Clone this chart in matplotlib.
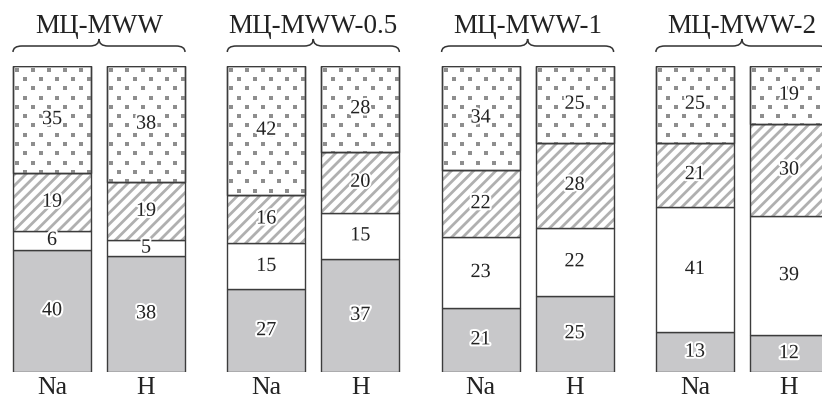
import numpy as np
import matplotlib.pyplot as plt
import matplotlib.patheffects as pe
from matplotlib.path import Path
from matplotlib.patches import PathPatch

plt.rcParams['font.family'] = ['Liberation Serif', 'DejaVu Serif']
plt.rcParams['hatch.linewidth'] = 2.0

# ---- data (percent, bottom -> top) ----
groups = ['МЦ-MWW', 'МЦ-MWW-0.5', 'МЦ-MWW-1', 'МЦ-MWW-2']
forms = ['Na', 'H']
gray_part = [[40, 38], [27, 37], [21, 25], [13, 12]]
white_part = [[6, 5], [15, 15], [23, 22], [41, 39]]
hatch_part = [[19, 19], [16, 20], [22, 28], [21, 30]]
dot_part = [[35, 38], [42, 28], [34, 25], [25, 19]]

# ---- layout ----
fig = plt.figure(figsize=(8.22, 3.98), dpi=100)
ax = fig.add_axes([0, 26 / 398, 1, 306 / 398])
ax.set_xlim(0, 822)
ax.set_ylim(0, 100)
ax.axis('off')

group_step = 214.3
first_center = 52
pair_gap = 94
bar_w = 78
edge = '#3c3c3c'
dot_marker = [(-0.8, -1), (0.8, -1), (0.8, 1), (-0.8, 1), (-0.8, -1)]


def to_y(px):
    # pixel row (from top) -> data units
    return (372 - px) / 3.06


halo = [pe.withStroke(linewidth=3, foreground='white')]

for g, name in enumerate(groups):
    xs = [first_center + g * group_step, first_center + g * group_step + pair_gap]
    for k, x in enumerate(xs):
        segs = [gray_part[g][k], white_part[g][k], hatch_part[g][k], dot_part[g][k]]
        bottoms = np.concatenate([[0], np.cumsum(segs)[:-1]])
        # gray
        ax.bar(x, segs[0], bar_w, bottom=bottoms[0], color='#c8c8ca',
               edgecolor=edge, linewidth=1.0)
        # white
        ax.bar(x, segs[1], bar_w, bottom=bottoms[1], color='white',
               edgecolor=edge, linewidth=1.0)
        # hatched
        ax.bar(x, segs[2], bar_w, bottom=bottoms[2], color='white',
               edgecolor='#b0b0b0', linewidth=0, hatch='///')
        ax.bar(x, segs[2], bar_w, bottom=bottoms[2], fill=False,
               edgecolor=edge, linewidth=1.0)
        # dotted
        dot_bar = ax.bar(x, segs[3], bar_w, bottom=bottoms[3], color='white',
                         edgecolor=edge, linewidth=1.0, zorder=2)[0]
        xx = np.arange(x - bar_w / 2 + 4, x + bar_w / 2, 16.0)
        yy = np.arange(100 - 1.2, bottoms[3] - 3, -9.3 / 3.06)
        px, py = [], []
        for r, yv in enumerate(yy):
            shift = 0 if r % 2 == 0 else 8
            px.extend(xx + shift)
            py.extend([yv] * len(xx))
        sc = ax.scatter(px, py, marker=dot_marker, s=10, color='#8e8e8e',
                        linewidths=0, zorder=2.5)
        sc.set_clip_path(dot_bar)
        ax.bar(x, segs[3], bar_w, bottom=bottoms[3], fill=False,
               edgecolor=edge, linewidth=1.0, zorder=3)

        # value labels
        for v, b in zip(segs, bottoms):
            ax.text(x, b + v / 2, str(v), ha='center', va='center',
                    fontsize=14.5, color='#222222', path_effects=halo, zorder=5)
        # form label under bar
        ax.text(x, to_y(394), forms[k], ha='center', va='baseline',
                fontsize=18.5, color='#222222', clip_on=False)

    # brace and group title
    x0 = xs[0] - bar_w / 2
    x1 = xs[1] + bar_w / 2
    xc = (x0 + x1) / 2
    yb, ym, yt = to_y(52), to_y(46), to_y(39)
    r = 9
    verts = [(x0, yb), (x0, ym), (x0 + r, ym), (xc - r, ym), (xc, ym), (xc, yt),
             (xc, ym), (xc + r, ym), (x1 - r, ym), (x1, ym), (x1, yb)]
    codes = [Path.MOVETO, Path.CURVE3, Path.CURVE3, Path.LINETO, Path.CURVE3,
             Path.CURVE3, Path.CURVE3, Path.CURVE3, Path.LINETO, Path.CURVE3,
             Path.CURVE3]
    ax.add_patch(PathPatch(Path(verts, codes), fill=False, edgecolor='#333333',
                           linewidth=1.1, clip_on=False))
    ax.text(xc, to_y(33), name, ha='center', va='baseline', fontsize=19.5,
            color='#222222', clip_on=False)

fig.savefig('out.png', dpi=100)
